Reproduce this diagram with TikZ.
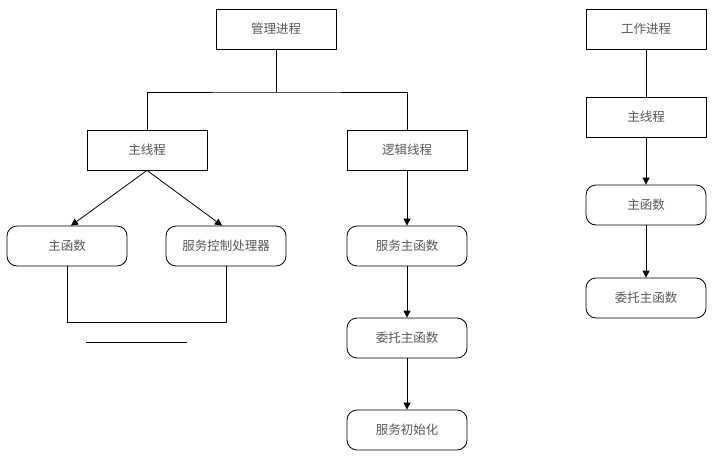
\documentclass[tikz,border=0pt]{standalone}
\usepackage{fontspec}
\setmainfont{Noto Sans CJK SC}
\usetikzlibrary{arrows.meta}
\begin{document}
\begin{tikzpicture}[x=1pt,y=-1pt,
  box/.style={draw=black,line width=0.8pt,minimum width=120pt,minimum height=40pt,inner sep=0pt,
    text=black!65,font=\fontsize{12.5}{14}\selectfont},
  rbox/.style={box,rounded corners=10pt},
  conn/.style={draw=black,line width=0.8pt},
  arr/.style={conn,-{Triangle[length=7pt,width=7pt]}}]
\useasboundingbox (0,0) rectangle (717,459);
% left tree
\node[box] (mgr) at (276,29) {管理进程};
\node[box] (mt) at (147,150) {主线程};
\node[box] (lt) at (407,150) {逻辑线程};
\node[rbox] (mf) at (67,246) {主函数};
\node[rbox] (sch) at (226,246) {服务控制处理器};
\node[rbox] (smf) at (407,246) {服务主函数};
\node[rbox] (dmf) at (407,338) {委托主函数};
\node[rbox] (sin) at (407,430) {服务初始化};
% right column
\node[box] (wp) at (646,29) {工作进程};
\node[box] (wt) at (646,117) {主线程};
\node[rbox] (wf) at (646,205) {主函数};
\node[rbox] (wd) at (646,298) {委托主函数};
% connectors
\coordinate (bus) at (276,92);
\draw[conn] (mgr.south) -- (bus);
\draw[conn] (mt.north) |- (bus) -| (lt.north);
\draw[arr] (mt.south) -- ([xshift=4pt]mf.north);
\draw[arr] (mt.south) -- ([xshift=-4pt]sch.north);
\draw[conn] (mf.south) -- ++(0,56) -| (sch.south);
\coordinate (la) at (86,342);
\coordinate (lb) at (187,342);
\draw[conn] (la) -- (lb);
\draw[arr] (lt) -- (smf);
\draw[arr] (smf) -- (dmf);
\draw[arr] (dmf) -- (sin);
\draw[conn] (wp) -- (wt);
\draw[arr] (wt) -- (wf);
\draw[arr] (wf) -- (wd);
\end{tikzpicture}
\end{document}
